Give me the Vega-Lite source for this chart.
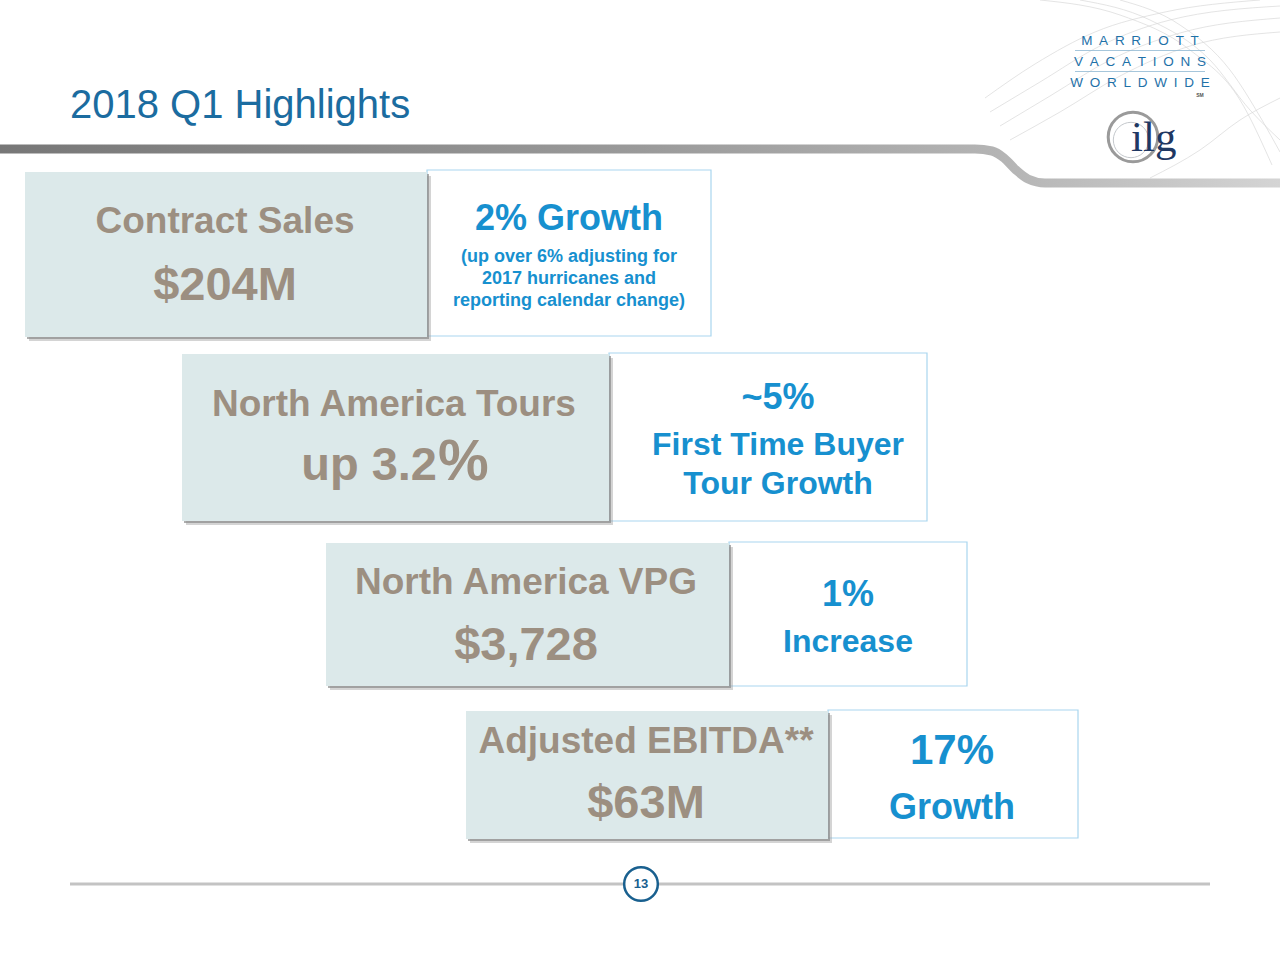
{
  "$schema": "https://vega.github.io/schema/vega-lite/v6.json",
  "width": 1280,
  "height": 960,
  "autosize": {"type": "none"},
  "padding": 0,
  "background": "#ffffff",
  "config": {"view": {"stroke": null}, "text": {"font": "Liberation Sans"}},
  "datasets": {
    "waves": [
      {"wave": "a", "x": 990, "y": 112}, {"wave": "a", "x": 1040, "y": 82}, {"wave": "a", "x": 1100, "y": 46}, {"wave": "a", "x": 1170, "y": 20}, {"wave": "a", "x": 1280, "y": 6},
      {"wave": "b", "x": 985, "y": 98}, {"wave": "b", "x": 1035, "y": 64}, {"wave": "b", "x": 1095, "y": 32}, {"wave": "b", "x": 1165, "y": 12}, {"wave": "b", "x": 1260, "y": 0},
      {"wave": "c", "x": 1000, "y": 126}, {"wave": "c", "x": 1050, "y": 96}, {"wave": "c", "x": 1110, "y": 60}, {"wave": "c", "x": 1180, "y": 33}, {"wave": "c", "x": 1280, "y": 18},
      {"wave": "d", "x": 1010, "y": 140}, {"wave": "d", "x": 1060, "y": 112}, {"wave": "d", "x": 1120, "y": 76}, {"wave": "d", "x": 1190, "y": 46}, {"wave": "d", "x": 1280, "y": 32},
      {"wave": "e", "x": 1080, "y": 0}, {"wave": "e", "x": 1150, "y": 20}, {"wave": "e", "x": 1210, "y": 60}, {"wave": "e", "x": 1250, "y": 110}, {"wave": "e", "x": 1280, "y": 140},
      {"wave": "f", "x": 1120, "y": 0}, {"wave": "f", "x": 1180, "y": 25}, {"wave": "f", "x": 1230, "y": 70}, {"wave": "f", "x": 1262, "y": 120}, {"wave": "f", "x": 1280, "y": 152},
      {"wave": "g", "x": 1040, "y": 0}, {"wave": "g", "x": 1120, "y": 15}, {"wave": "g", "x": 1190, "y": 50}, {"wave": "g", "x": 1240, "y": 100}, {"wave": "g", "x": 1272, "y": 165},
      {"wave": "h", "x": 1150, "y": 178}, {"wave": "h", "x": 1200, "y": 150}, {"wave": "h", "x": 1240, "y": 120}, {"wave": "h", "x": 1280, "y": 98}
    ],
    "swoosh": [
      {"x": 0, "y": 149}, {"x": 600, "y": 149}, {"x": 975, "y": 149}, {"x": 992, "y": 151}, {"x": 1004, "y": 158},
      {"x": 1016, "y": 170}, {"x": 1028, "y": 179}, {"x": 1045, "y": 183}, {"x": 1280, "y": 183}
    ],
    "boxes": [
      {"metric": "Contract Sales", "lx": 25, "mx": 427, "rx": 711, "ly": 172, "ly2": 337, "ry": 170, "ry2": 336},
      {"metric": "North America Tours", "lx": 182, "mx": 609, "rx": 927, "ly": 354, "ly2": 521, "ry": 353, "ry2": 521},
      {"metric": "North America VPG", "lx": 326, "mx": 729, "rx": 967, "ly": 543, "ly2": 686, "ry": 542, "ry2": 686},
      {"metric": "Adjusted EBITDA", "lx": 466, "mx": 828, "rx": 1078, "ly": 711, "ly2": 839, "ry": 710, "ry2": 838}
    ],
    "texts": [
      {"role": "metric", "text": "Contract Sales", "x": 225, "y": 233},
      {"role": "value", "text": "$204M", "x": 225, "y": 300},
      {"role": "head", "text": "2% Growth", "x": 569, "y": 230},
      {"role": "note", "text": "(up over 6% adjusting for", "x": 569, "y": 262},
      {"role": "note", "text": "2017 hurricanes and", "x": 569, "y": 284},
      {"role": "note", "text": "reporting calendar change)", "x": 569, "y": 306},
      {"role": "metric", "text": "North America Tours", "x": 394, "y": 416},
      {"role": "valueLead", "text": "up 3.2", "x": 437, "y": 480},
      {"role": "bigPct", "text": "%", "x": 438, "y": 480},
      {"role": "head", "text": "~5%", "x": 778, "y": 409},
      {"role": "sub", "text": "First Time Buyer", "x": 778, "y": 455},
      {"role": "sub", "text": "Tour Growth", "x": 778, "y": 494},
      {"role": "metric", "text": "North America VPG", "x": 526, "y": 594},
      {"role": "value", "text": "$3,728", "x": 526, "y": 660},
      {"role": "head", "text": "1%", "x": 848, "y": 606},
      {"role": "sub", "text": "Increase", "x": 848, "y": 652},
      {"role": "metric", "text": "Adjusted EBITDA**", "x": 646, "y": 753},
      {"role": "value", "text": "$63M", "x": 646, "y": 818},
      {"role": "headL", "text": "17%", "x": 952, "y": 764},
      {"role": "head", "text": "Growth", "x": 952, "y": 819}
    ],
    "title": [{"text": "2018 Q1 Highlights", "x": 70, "y": 118}],
    "logo": [
      {"text": "M\u2002A\u2002R\u2002R\u2002I\u2002O\u2002T\u2002T", "x": 1140, "y": 45},
      {"text": "V\u2002A\u2002C\u2002A\u2002T\u2002I\u2002O\u2002N\u2002S", "x": 1140, "y": 66},
      {"text": "W\u2002O\u2002R\u2002L\u2002D\u2002W\u2002I\u2002D\u2002E", "x": 1140, "y": 87}
    ],
    "logoRules": [{"x": 1075, "x2": 1205, "y": 50.5}, {"x": 1075, "x2": 1205, "y": 71.5}],
    "sm": [{"text": "SM", "x": 1200, "y": 97}],
    "ring": [{"x": 1133, "y": 137}],
    "globe": [{"x": 1131, "y": 140}],
    "ilg": [{"text": "ilg", "x": 1131, "y": 151}],
    "footer": [{"x": 70, "x2": 1210, "y": 884}],
    "page": [{"text": "13", "x": 641, "y": 884}]
  },
  "layer": [
    {
      "data": {"name": "waves"},
      "mark": {"type": "line", "interpolate": "monotone", "color": "#d4d4d4", "strokeWidth": 0.8, "opacity": 0.8},
      "encoding": {
        "x": {"field": "x", "type": "quantitative", "scale": {"domain": [0, 1280], "nice": false, "zero": false, "padding": 0}, "axis": null},
        "y": {"field": "y", "type": "quantitative", "scale": {"domain": [0, 960], "nice": false, "zero": false, "reverse": true, "padding": 0}, "axis": null},
        "detail": {"field": "wave", "type": "nominal"},
        "order": {"field": "x", "type": "quantitative"}
      }
    },
    {
      "data": {"name": "swoosh"},
      "mark": {
        "type": "line",
        "interpolate": "monotone",
        "strokeWidth": 9,
        "strokeCap": "butt",
        "color": {"gradient": "linear", "x1": 0, "x2": 1, "y1": 0, "y2": 0,
          "stops": [{"offset": 0, "color": "#777777"}, {"offset": 0.5, "color": "#9a9a9a"}, {"offset": 0.78, "color": "#b4b4b4"}, {"offset": 1, "color": "#d4d4d4"}]}
      },
      "encoding": {
        "x": {"field": "x", "type": "quantitative", "axis": null},
        "y": {"field": "y", "type": "quantitative", "axis": null},
        "order": {"field": "x", "type": "quantitative"}
      }
    },
    {
      "data": {"name": "boxes"},
      "mark": {"type": "rect", "fill": "#ffffff", "stroke": "#a9d6ef", "strokeWidth": 1.2},
      "encoding": {
        "x": {"field": "mx", "type": "quantitative", "axis": null},
        "x2": {"field": "rx"},
        "y": {"field": "ry", "type": "quantitative", "axis": null},
        "y2": {"field": "ry2"}
      }
    },
    {
      "data": {"name": "boxes"},
      "mark": {"type": "rect", "fill": "#a0a0a0", "opacity": 0.45, "xOffset": 4, "x2Offset": 4, "yOffset": 4, "y2Offset": 4},
      "encoding": {
        "x": {"field": "lx", "type": "quantitative", "axis": null},
        "x2": {"field": "mx"},
        "y": {"field": "ly", "type": "quantitative", "axis": null},
        "y2": {"field": "ly2"}
      }
    },
    {
      "data": {"name": "boxes"},
      "mark": {"type": "rect", "fill": "#8c8c8c", "opacity": 0.7, "xOffset": 2, "x2Offset": 2, "yOffset": 2, "y2Offset": 2},
      "encoding": {
        "x": {"field": "lx", "type": "quantitative", "axis": null},
        "x2": {"field": "mx"},
        "y": {"field": "ly", "type": "quantitative", "axis": null},
        "y2": {"field": "ly2"}
      }
    },
    {
      "data": {"name": "boxes"},
      "mark": {"type": "rect", "fill": "#dce9ea"},
      "encoding": {
        "x": {"field": "lx", "type": "quantitative", "axis": null},
        "x2": {"field": "mx"},
        "y": {"field": "ly", "type": "quantitative", "axis": null},
        "y2": {"field": "ly2"}
      }
    },
    {
      "data": {"name": "texts"},
      "transform": [{"filter": "datum.role === 'metric'"}],
      "mark": {"type": "text", "fontSize": 37, "fontWeight": "bold", "color": "#9c8f81", "align": "center", "baseline": "alphabetic"},
      "encoding": {
        "x": {"field": "x", "type": "quantitative", "axis": null},
        "y": {"field": "y", "type": "quantitative", "axis": null},
        "text": {"field": "text"}
      }
    },
    {
      "data": {"name": "texts"},
      "transform": [{"filter": "datum.role === 'value'"}],
      "mark": {"type": "text", "fontSize": 47, "fontWeight": "bold", "color": "#9c8f81", "align": "center", "baseline": "alphabetic"},
      "encoding": {
        "x": {"field": "x", "type": "quantitative", "axis": null},
        "y": {"field": "y", "type": "quantitative", "axis": null},
        "text": {"field": "text"}
      }
    },
    {
      "data": {"name": "texts"},
      "transform": [{"filter": "datum.role === 'valueLead'"}],
      "mark": {"type": "text", "fontSize": 47, "fontWeight": "bold", "color": "#9c8f81", "align": "right", "baseline": "alphabetic"},
      "encoding": {
        "x": {"field": "x", "type": "quantitative", "axis": null},
        "y": {"field": "y", "type": "quantitative", "axis": null},
        "text": {"field": "text"}
      }
    },
    {
      "data": {"name": "texts"},
      "transform": [{"filter": "datum.role === 'bigPct'"}],
      "mark": {"type": "text", "fontSize": 57, "fontWeight": "bold", "color": "#9c8f81", "align": "left", "baseline": "alphabetic"},
      "encoding": {
        "x": {"field": "x", "type": "quantitative", "axis": null},
        "y": {"field": "y", "type": "quantitative", "axis": null},
        "text": {"field": "text"}
      }
    },
    {
      "data": {"name": "texts"},
      "transform": [{"filter": "datum.role === 'head'"}],
      "mark": {"type": "text", "fontSize": 36, "fontWeight": "bold", "color": "#1790cf", "align": "center", "baseline": "alphabetic"},
      "encoding": {
        "x": {"field": "x", "type": "quantitative", "axis": null},
        "y": {"field": "y", "type": "quantitative", "axis": null},
        "text": {"field": "text"}
      }
    },
    {
      "data": {"name": "texts"},
      "transform": [{"filter": "datum.role === 'headL'"}],
      "mark": {"type": "text", "fontSize": 42, "fontWeight": "bold", "color": "#1790cf", "align": "center", "baseline": "alphabetic"},
      "encoding": {
        "x": {"field": "x", "type": "quantitative", "axis": null},
        "y": {"field": "y", "type": "quantitative", "axis": null},
        "text": {"field": "text"}
      }
    },
    {
      "data": {"name": "texts"},
      "transform": [{"filter": "datum.role === 'sub'"}],
      "mark": {"type": "text", "fontSize": 32, "fontWeight": "bold", "color": "#1790cf", "align": "center", "baseline": "alphabetic"},
      "encoding": {
        "x": {"field": "x", "type": "quantitative", "axis": null},
        "y": {"field": "y", "type": "quantitative", "axis": null},
        "text": {"field": "text"}
      }
    },
    {
      "data": {"name": "texts"},
      "transform": [{"filter": "datum.role === 'note'"}],
      "mark": {"type": "text", "fontSize": 18, "fontWeight": "bold", "color": "#1790cf", "align": "center", "baseline": "alphabetic"},
      "encoding": {
        "x": {"field": "x", "type": "quantitative", "axis": null},
        "y": {"field": "y", "type": "quantitative", "axis": null},
        "text": {"field": "text"}
      }
    },
    {
      "data": {"name": "title"},
      "mark": {"type": "text", "fontSize": 40, "fontWeight": "normal", "color": "#1b6ca0", "align": "left", "baseline": "alphabetic"},
      "encoding": {
        "x": {"field": "x", "type": "quantitative", "axis": null},
        "y": {"field": "y", "type": "quantitative", "axis": null},
        "text": {"field": "text"}
      }
    },
    {
      "data": {"name": "logo"},
      "mark": {"type": "text", "fontSize": 13.5, "fontWeight": "normal", "color": "#1f71a8", "align": "center", "baseline": "alphabetic"},
      "encoding": {
        "x": {"field": "x", "type": "quantitative", "axis": null},
        "y": {"field": "y", "type": "quantitative", "axis": null},
        "text": {"field": "text"}
      }
    },
    {
      "data": {"name": "logoRules"},
      "mark": {"type": "rule", "color": "#8fb8d2", "strokeWidth": 0.8},
      "encoding": {
        "x": {"field": "x", "type": "quantitative", "axis": null},
        "x2": {"field": "x2"},
        "y": {"field": "y", "type": "quantitative", "axis": null}
      }
    },
    {
      "data": {"name": "sm"},
      "mark": {"type": "text", "fontSize": 5, "fontWeight": "bold", "color": "#555555", "align": "center", "baseline": "alphabetic"},
      "encoding": {
        "x": {"field": "x", "type": "quantitative", "axis": null},
        "y": {"field": "y", "type": "quantitative", "axis": null},
        "text": {"field": "text"}
      }
    },
    {
      "data": {"name": "globe"},
      "mark": {"type": "point", "shape": "circle", "size": 1250, "filled": false, "stroke": "#c4c8cc", "strokeWidth": 1, "opacity": 1},
      "encoding": {
        "x": {"field": "x", "type": "quantitative", "axis": null},
        "y": {"field": "y", "type": "quantitative", "axis": null}
      }
    },
    {
      "data": {"name": "ring"},
      "mark": {"type": "point", "shape": "circle", "size": 2460, "filled": false, "stroke": "#9a9a9a", "strokeWidth": 3, "opacity": 1},
      "encoding": {
        "x": {"field": "x", "type": "quantitative", "axis": null},
        "y": {"field": "y", "type": "quantitative", "axis": null}
      }
    },
    {
      "data": {"name": "ilg"},
      "mark": {"type": "text", "font": "Liberation Serif", "fontSize": 43, "fontWeight": "normal", "color": "#1f3863", "align": "left", "baseline": "alphabetic"},
      "encoding": {
        "x": {"field": "x", "type": "quantitative", "axis": null},
        "y": {"field": "y", "type": "quantitative", "axis": null},
        "text": {"field": "text"}
      }
    },
    {
      "data": {"name": "footer"},
      "mark": {"type": "rule", "color": "#c3c3c3", "strokeWidth": 3},
      "encoding": {
        "x": {"field": "x", "type": "quantitative", "axis": null},
        "x2": {"field": "x2"},
        "y": {"field": "y", "type": "quantitative", "axis": null}
      }
    },
    {
      "data": {"name": "page"},
      "mark": {"type": "point", "shape": "circle", "size": 1134, "filled": true, "fill": "#ffffff", "stroke": "#19608f", "strokeWidth": 2.5, "opacity": 1},
      "encoding": {
        "x": {"field": "x", "type": "quantitative", "axis": null},
        "y": {"field": "y", "type": "quantitative", "axis": null}
      }
    },
    {
      "data": {"name": "page"},
      "mark": {"type": "text", "fontSize": 13, "fontWeight": "bold", "color": "#19608f", "align": "center", "baseline": "middle"},
      "encoding": {
        "x": {"field": "x", "type": "quantitative", "axis": null},
        "y": {"field": "y", "type": "quantitative", "axis": null},
        "text": {"field": "text"}
      }
    }
  ]
}
